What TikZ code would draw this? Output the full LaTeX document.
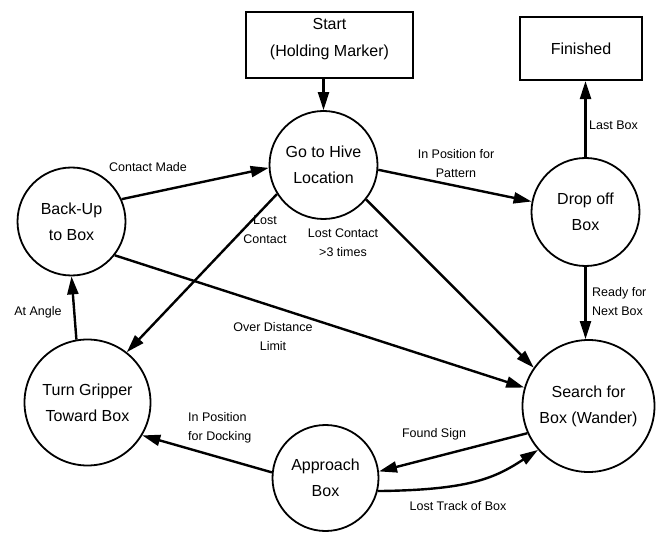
\documentclass[tikz,border=0pt]{standalone}
\usepackage{fontspec}
\setmainfont{Liberation Sans}
\usetikzlibrary{arrows.meta}

\begin{document}
\begin{tikzpicture}[x=1pt, y=-1pt, >={Triangle[length=18pt,width=11pt]}]
		\tikzstyle{every node}=[align=center]
		\tikzstyle{state}=[draw, circle, line width=1.8pt, inner sep=0pt, font=\fontsize{16}{26}\selectfont]
		\tikzstyle{box}=[draw, rectangle, line width=2.2pt, font=\fontsize{16}{27}\selectfont]
		\tikzstyle{lbl}=[inner sep=1pt, font=\fontsize{12.5}{19}\selectfont]
		\tikzstyle{trans}=[line width=2.4pt, ->]
			\useasboundingbox (0, 0) rectangle (660, 534);

			\node[box, minimum width=167pt, minimum height=66pt, text depth=15pt] (start) at (329.5, 45) {Start\\(Holding Marker)};
			\node[box, minimum width=122pt, minimum height=63pt] (finished) at (581, 48.5) {Finished};
			\node[state, minimum size=108pt] (hive) at (323.5, 165) {Go to Hive\\Location};
			\node[state, minimum size=108pt] (backup) at (71.5, 221.5) {Back-Up\\to Box};
			\node[state, minimum size=108pt] (drop) at (585.5, 212) {Drop off\\Box};
			\node[state, minimum size=126pt] (turn) at (87.5, 402.5) {Turn Gripper\\Toward Box};
			\node[state, minimum size=132pt] (search) at (588.5, 406) {Search for\\Box (Wander)};
			\node[state, minimum size=106pt] (approach) at (325.5, 478) {Approach\\Box};

			\node[lbl] (contactmade) at (148, 167) {Contact Made};
			\node[lbl] (pattern) at (456, 164) {In Position for\\Pattern};
			\node[lbl, anchor=west] (lastbox) at (588, 125) {Last Box};
			\node[lbl, anchor=west, align=left] (nextbox) at (591, 302) {Ready for\\Next Box};
			\node[lbl] (threetimes) at (343, 243) {Lost Contact\\>3 times};
			\node[lbl] (lostcontact) at (265, 230) {Lost\\Contact};
			\node[lbl] (distance) at (273, 337) {Over Distance\\Limit};
			\node[lbl] (atangle) at (38, 312) {At Angle};
			\node[lbl, anchor=west, align=left] (docking) at (187, 428) {In Position\\for Docking};
			\node[lbl] (foundsign) at (434, 434) {Found Sign};
			\node[lbl] (losttrack) at (458, 506) {Lost Track of Box};

			\draw[trans] (start.south -| hive.north) -- (hive.north);
			\draw[trans] (backup.24) -- (hive.183);
			\draw[trans] (hive.-5) -- (drop.169);
			\draw[trans] (drop.north) -- (drop.north |- finished.south);
			\draw[trans] (drop.south) -- (drop.south |- search.north);
			\draw[trans] (hive.-39) -- (search.145);
			\draw[trans] (hive.212) -- (turn.52);
			\draw[trans] (backup.-38) -- (search.164);
			\draw[trans] (turn.100) -- (backup.south);
			\draw[trans] (approach.174) -- (turn.-31);
			\draw[trans] (search.204) -- (approach.7);
			\draw[trans] (approach.-14) .. controls (470, 490) and (495, 478) .. (search.221);
\end{tikzpicture}
\end{document}
